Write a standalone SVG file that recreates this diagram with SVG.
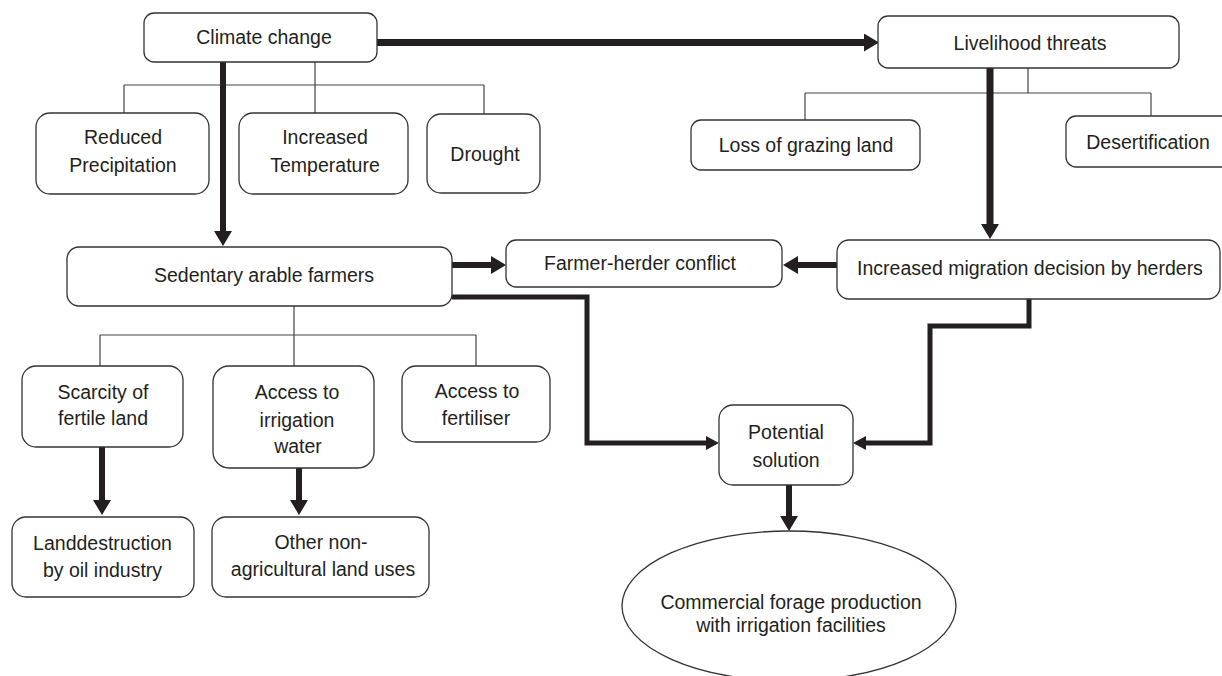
<svg xmlns="http://www.w3.org/2000/svg" width="1222" height="676" viewBox="0 0 1222 676">
<style>
.box{fill:#fff;stroke:#333;stroke-width:1.3}
.t{font-family:"Liberation Sans",Arial,sans-serif;font-size:19.5px;fill:#231f20;text-anchor:middle}
.thin{fill:none;stroke:#444;stroke-width:1.2}
.thick{fill:none;stroke:#231f20;stroke-width:6}
.mid{fill:none;stroke:#231f20;stroke-width:5}
</style>
<defs>
<marker id="big" viewBox="0 -9 15 18" refX="0" refY="0" markerWidth="15" markerHeight="18" markerUnits="userSpaceOnUse" orient="auto">
<path d="M0,-9 L15,0 L0,9 z" fill="#231f20"/>
</marker>
<marker id="small" viewBox="0 -7 13 14" refX="0" refY="0" markerWidth="13" markerHeight="14" markerUnits="userSpaceOnUse" orient="auto">
<path d="M0,-7 L13,0 L0,7 z" fill="#231f20"/>
</marker>
</defs>
<rect width="1222" height="676" fill="#fff"/>
<g id="connectors">
<path class="thin" d="M315,62 V85 M124,85 H484 M124,85 V113 M315,85 V113 M484,85 V114"/>
<path class="thin" d="M1028,68 V93 M805,93 H1151 M805,93 V120 M1151,93 V116"/>
<path class="thin" d="M294,306 V335 M100,335 H476 M100,335 V366 M294,335 V366 M476,335 V366"/>
<path class="thick" style="stroke-width:7" d="M377,42.5 H864" marker-end="url(#big)"/>
<path class="thick" d="M223,62 V231" marker-end="url(#big)"/>
<path class="thick" style="stroke-width:7" d="M990,68 V224" marker-end="url(#big)"/>
<path class="thick" d="M452,265 H491" marker-end="url(#big)"/>
<path class="thick" d="M837,265 H798" marker-end="url(#big)"/>
<path class="mid" d="M452,297 H587 V443 H706" marker-end="url(#small)"/>
<path class="mid" d="M1029,299 V326 H930 V443 H866" marker-end="url(#small)"/>
<path class="thick" d="M789,485 V516" marker-end="url(#big)"/>
<path class="thick" d="M102,447 V500" marker-end="url(#big)"/>
<path class="thick" d="M299,468 V500" marker-end="url(#big)"/>
</g>
<g id="climate-change"><rect class="box" x="144" y="13" width="233" height="49" rx="10"/><text class="t" x="264" y="44">Climate change</text></g>
<g id="livelihood-threats"><rect class="box" x="878" y="16" width="301" height="52" rx="10"/><text class="t" x="1030" y="50">Livelihood threats</text></g>
<g id="reduced-precipitation"><rect class="box" x="36" y="113" width="173" height="81" rx="14"/><text class="t" x="123" y="144">Reduced</text><text class="t" x="123" y="172">Precipitation</text></g>
<g id="increased-temperature"><rect class="box" x="239" y="113" width="169" height="81" rx="14"/><text class="t" x="325" y="144">Increased</text><text class="t" x="325" y="172">Temperature</text></g>
<g id="drought"><rect class="box" x="427" y="114" width="113" height="79" rx="14"/><text class="t" x="485" y="161">Drought</text></g>
<g id="loss-of-grazing-land"><rect class="box" x="691" y="120" width="229" height="50" rx="10"/><text class="t" x="806" y="152">Loss of grazing land</text></g>
<g id="desertification"><rect class="box" x="1066" y="116" width="166" height="51" rx="10"/><text class="t" x="1148" y="149">Desertification</text></g>
<g id="sedentary-arable-farmers"><rect class="box" x="67" y="247" width="385" height="59" rx="12"/><text class="t" x="264" y="282">Sedentary arable farmers</text></g>
<g id="farmer-herder-conflict"><rect class="box" x="506" y="240" width="276" height="47" rx="10"/><text class="t" x="640" y="270">Farmer-herder conflict</text></g>
<g id="increased-migration"><rect class="box" x="837" y="240" width="383" height="59" rx="12"/><text class="t" x="1030" y="275">Increased migration decision by herders</text></g>
<g id="scarcity-of-fertile-land"><rect class="box" x="22" y="366" width="161" height="81" rx="14"/><text class="t" x="103" y="399">Scarcity of</text><text class="t" x="103" y="425">fertile land</text></g>
<g id="access-to-irrigation-water"><rect class="box" x="213" y="366" width="161" height="102" rx="16"/><text class="t" x="297" y="399">Access to</text><text class="t" x="297" y="427">irrigation</text><text class="t" x="298" y="453">water</text></g>
<g id="access-to-fertiliser"><rect class="box" x="402" y="366" width="148" height="76" rx="14"/><text class="t" x="477" y="398">Access to</text><text class="t" x="476" y="425">fertiliser</text></g>
<g id="potential-solution"><rect class="box" x="719" y="405" width="134" height="80" rx="14"/><text class="t" x="786" y="439">Potential</text><text class="t" x="786" y="467">solution</text></g>
<g id="land-destruction"><rect class="box" x="12" y="517" width="182" height="80" rx="14"/><text class="t" x="102.5" y="550">Landdestruction</text><text class="t" x="102.5" y="577">by oil industry</text></g>
<g id="other-non-agricultural"><rect class="box" x="212" y="517" width="217" height="80" rx="14"/><text class="t" x="321" y="549">Other non-</text><text class="t" x="323" y="576">agricultural land uses</text></g>
<g id="commercial-forage"><ellipse class="box" cx="789" cy="606" rx="167" ry="75"/><text class="t" x="791" y="609">Commercial forage production</text><text class="t" x="791" y="632">with irrigation facilities</text></g>
</svg>
